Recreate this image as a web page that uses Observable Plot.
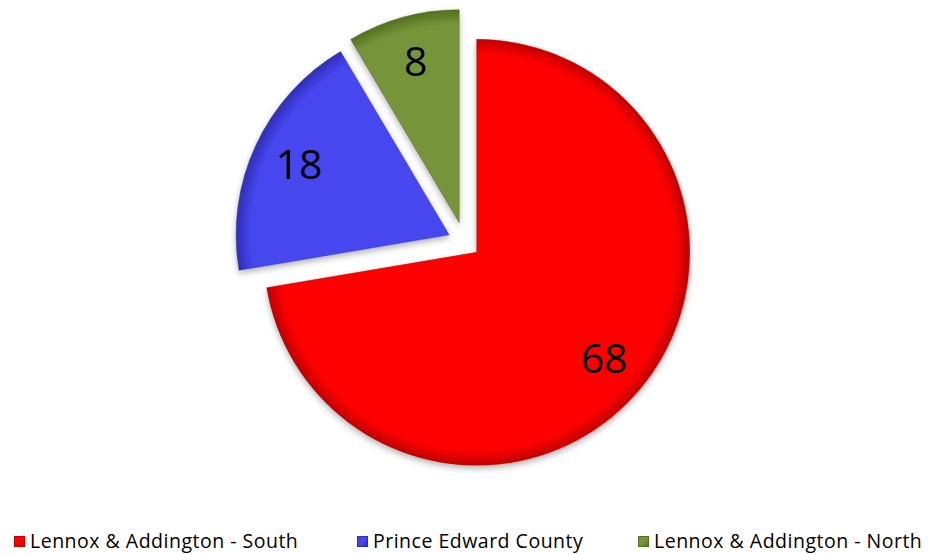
<!DOCTYPE html>
<html>
<head>
<meta charset="utf-8">
<script src="https://cdn.jsdelivr.net/npm/d3@7"></script>
<script src="https://cdn.jsdelivr.net/npm/@observablehq/plot@0.6"></script>
<style>
  html, body { margin: 0; padding: 0; background: #fff; }
  body { width: 935px; height: 554px; overflow: hidden; position: relative; font-family: "Open Sans", "Noto Sans", sans-serif; }
  #legend { position: absolute; left: 0; top: 529px; width: 935px; height: 24px; }
  .item { position: absolute; top: 0; height: 24px; line-height: 24px; display: flex; align-items: center; font-size: 19.5px; color: #000; white-space: nowrap; letter-spacing: 0.5px; }
  .sw { width: 11px; height: 11px; margin-right: 5px; box-sizing: border-box; }
</style>
</head>
<body>
<div id="chart"></div>
<div id="legend"></div>
<script>
// ---- data ----
const categories = ["Lennox & Addington - South", "Prince Edward County", "Lennox & Addington - North"];
const values = [68, 18, 8];
const colors = ["#ff0000", "#4646f0", "#76953a"];
const edgeColors = ["#c00000", "#2e2eb8", "#53701f"];
const explode = [16, 17, 20];

// ---- layout ----
const W = 935, H = 520;
const CX = 464.5, CY = 242, R = 213, LABEL_R = 0.78 * R;

const arcs = d3.pie().sort(null).startAngle(0).endAngle(2 * Math.PI)(values);
const slices = arcs.map((a, i) => {
  const mid = (a.startAngle + a.endAngle) / 2;
  const cx = CX + explode[i] * Math.sin(mid);
  const cy = CY - explode[i] * Math.cos(mid);
  return {
    category: categories[i], value: values[i], color: colors[i], edge: edgeColors[i],
    start: a.startAngle, end: a.endAngle, mid, cx, cy,
    lx: cx + LABEL_R * Math.sin(mid), ly: cy - LABEL_R * Math.cos(mid)
  };
});

const svgNS = "http://www.w3.org/2000/svg";

const plot = Plot.plot({
  width: W, height: H,
  margin: 0,
  x: {domain: [0, W], range: [0, W], axis: null},
  y: {domain: [0, H], range: [0, H], axis: null},
  marks: [
    Plot.dot(slices, {
      x: "cx", y: "cy",
      render(index, scales, values, dimensions, context) {
        const g = document.createElementNS(svgNS, "g");
        const defs = document.createElementNS(svgNS, "defs");
        defs.innerHTML = `<filter id="shadow" x="-20%" y="-20%" width="140%" height="140%">
            <feDropShadow dx="0" dy="3" stdDeviation="3" flood-color="#000" flood-opacity="0.3"/></filter>`;
        g.appendChild(defs);
        const rpx = scales.x(R) - scales.x(0);
        const arc = d3.arc().innerRadius(0).outerRadius(rpx);
        for (const i of index) {
          const s = slices[i];
          const gid = "grad" + i;
          const grad = document.createElementNS(svgNS, "radialGradient");
          grad.setAttribute("id", gid);
          grad.setAttribute("gradientUnits", "userSpaceOnUse");
          grad.setAttribute("cx", 0); grad.setAttribute("cy", 0); grad.setAttribute("r", rpx);
          grad.innerHTML = `<stop offset="0" stop-color="${s.color}"/>
            <stop offset="0.93" stop-color="${s.color}"/>
            <stop offset="1" stop-color="${s.edge}"/>`;
          defs.appendChild(grad);
          const p = document.createElementNS(svgNS, "path");
          p.setAttribute("d", arc({startAngle: s.start, endAngle: s.end}));
          p.setAttribute("transform", `translate(${values.x[i]},${values.y[i]})`);
          p.setAttribute("fill", `url(#${gid})`);
          p.setAttribute("stroke", s.edge);
          p.setAttribute("stroke-width", 0.8);
          p.setAttribute("stroke-opacity", 0.6);
          p.setAttribute("stroke-linejoin", "round");
          p.setAttribute("filter", "url(#shadow)");
          g.appendChild(p);
        }
        return g;
      }
    }),
    Plot.text(slices, {
      x: "lx", y: "ly", text: d => String(d.value),
      fontSize: 41, fill: "#000", fontFamily: "Open Sans, Noto Sans, sans-serif",
      textAnchor: "middle", lineAnchor: "middle"
    })
  ]
});
document.getElementById("chart").appendChild(plot);

// ---- legend ----
const legendX = [14, 357, 638];
const legend = document.getElementById("legend");
categories.forEach((c, i) => {
  const item = document.createElement("div");
  item.className = "item";
  item.style.left = legendX[i] + "px";
  const sw = document.createElement("span");
  sw.className = "sw";
  sw.style.background = `linear-gradient(135deg, ${colors[i]} 55%, ${edgeColors[i]})`;
  sw.style.border = `1px solid ${edgeColors[i]}`;
  const t = document.createElement("span");
  t.textContent = c;
  item.appendChild(sw); item.appendChild(t);
  legend.appendChild(item);
});
</script>
</body>
</html>
